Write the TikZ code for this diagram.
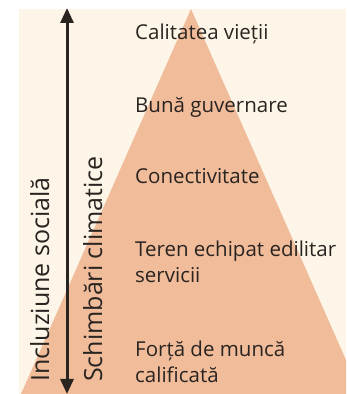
\documentclass[tikz,border=0pt]{standalone}
\usepackage{fontspec}
\setmainfont{Open Sans}
\usetikzlibrary{arrows.meta}
\definecolor{cream}{HTML}{FDF5E8}
\definecolor{peach}{HTML}{F0BC9A}
\definecolor{ink}{HTML}{2A2421}
\tikzset{
  lbl/.style={anchor=base west, inner sep=0pt, text=ink, align=left,
    font=\fontsize{20.5}{26}\selectfont},
  rlbl/.style={anchor=base west, inner sep=0pt, text=ink, rotate=90,
    font=\fontsize{25}{26}\selectfont},
  axisarrow/.style={line width=3pt, ink,
    {Triangle[length=15pt,width=13pt]}-{Triangle[length=15pt,width=13pt]}}
}
\begin{document}
\begin{tikzpicture}[x=1pt,y=1pt]
\useasboundingbox (0,0) rectangle (346,394);
\fill[cream] (19,0) rectangle (346,385);
\begin{scope}
  \clip (19,0) rectangle (346,385);
  \fill[peach] (191,385) -- (21,0) -- (361,0) -- cycle;
\end{scope}
\coordinate (atop) at (67,386);
\coordinate (abot) at (67,0);
\draw[axisarrow] (abot) -- (atop);
\node[rlbl] (incl) at (49,12) {Incluziune socială};
\node[rlbl] (clim) at (102,12) {Schimbări climatice};
\node[lbl] (t1) at (135,354) {Calitatea vieții};
\node[lbl] (t2) at (135,281) {Bună guvernare};
\node[lbl] (t3) at (135,210) {Conectivitate};
\node[lbl] (t4) at (135,111) {Teren echipat edilitar\\servicii};
\node[lbl] (t5) at (135,12) {Forță de muncă\\calificată};
\end{tikzpicture}
\end{document}
